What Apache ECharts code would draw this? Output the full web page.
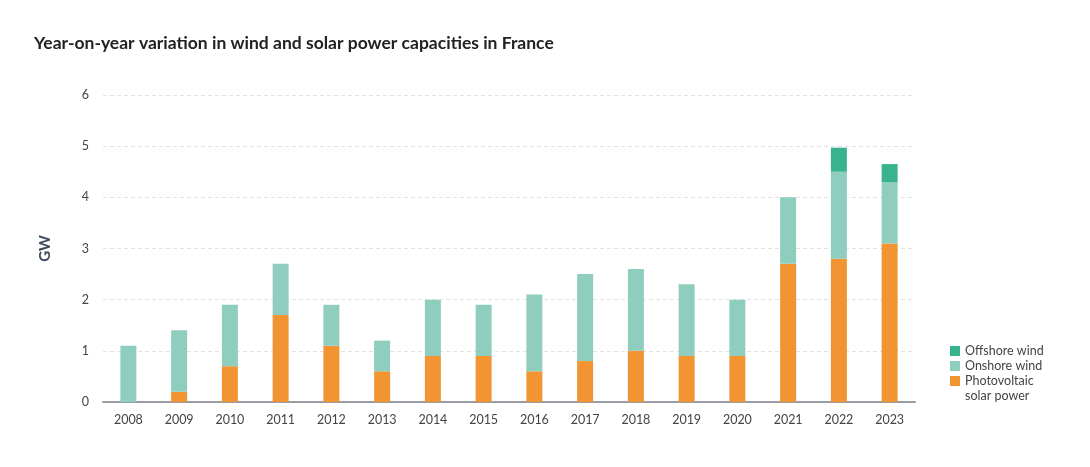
<!DOCTYPE html>
<html>
<head>
<meta charset="utf-8">
<script src="https://cdn.jsdelivr.net/npm/echarts@6/dist/echarts.min.js"></script>
<style>
html,body{margin:0;padding:0;background:#fff;}
#chart{width:1090px;height:467px;}
</style>
</head>
<body>
<div id="chart"></div>
<script>
const years = ['2008','2009','2010','2011','2012','2013','2014','2015','2016','2017','2018','2019','2020','2021','2022','2023'];
const photovoltaic = [0, 0.2, 0.7, 1.7, 1.1, 0.6, 0.9, 0.9, 0.6, 0.8, 1.0, 0.9, 0.9, 2.7, 2.8, 3.1];
const onshoreWind = [1.1, 1.2, 1.2, 1.0, 0.8, 0.6, 1.1, 1.0, 1.5, 1.7, 1.6, 1.4, 1.1, 1.3, 1.7, 1.2];
const offshoreWind = [0, 0, 0, 0, 0, 0, 0, 0, 0, 0, 0, 0, 0, 0, 0.47, 0.35];
const yTicks = [0, 1, 2, 3, 4, 5, 6];

const FONT = 'Lato, "Open Sans", sans-serif';
const legendText = { fontSize: 12.5, color: '#444', fontFamily: FONT, lineHeight: 15 };
const legendBase = {
  orient: 'vertical', left: 950, padding: 0,
  itemWidth: 10, itemHeight: 10, itemGap: 1, icon: 'rect',
  textStyle: legendText
};
const chart = echarts.init(document.getElementById('chart'));
chart.setOption({
  animation: false,
  backgroundColor: '#fff',
  textStyle: { fontFamily: FONT },
  title: {
    text: 'Year-on-year variation in wind and solar power capacities in France',
    left: 29, top: 29,
    textStyle: { fontSize: 17.5, fontWeight: 'bold', color: '#222', fontFamily: FONT }
  },
  grid: { left: 103, right: 175, top: 95, bottom: 65 },
  legend: [
    Object.assign({}, legendBase, { top: 343.5, data: ['Offshore wind'] }),
    Object.assign({}, legendBase, { top: 358.5, data: ['Onshore wind'] }),
    Object.assign({}, legendBase, {
      top: 358.5,
      data: ['Photovoltaic\nsolar power'],
      formatter: function (name) { return '\u00a0\n' + name; }
    })
  ],
  xAxis: {
    type: 'category',
    data: years,
    axisTick: { show: false },
    axisLine: { lineStyle: { color: '#9a9ca3', width: 2 } },
    axisLabel: { color: '#444', fontSize: 12.5, margin: 11 }
  },
  yAxis: {
    type: 'value',
    min: yTicks[0], max: yTicks[yTicks.length - 1], interval: 1,
    name: 'GW',
    nameLocation: 'middle',
    nameGap: 50,
    nameRotate: 90,
    nameTextStyle: { fontSize: 15, fontWeight: 'bold', color: '#3d4a5c' },
    axisLine: { show: false },
    axisTick: { show: false },
    axisLabel: { color: '#444', fontSize: 12.5, margin: 14 },
    splitLine: { lineStyle: { color: '#e3e3e3', type: [4, 3] } }
  },
  series: [
    {
      name: 'Photovoltaic\nsolar power', type: 'bar', stack: 'total', data: photovoltaic,
      barWidth: 16, itemStyle: { color: '#f39433' }
    },
    {
      name: 'Onshore wind', type: 'bar', stack: 'total', data: onshoreWind,
      barWidth: 16, itemStyle: { color: '#8fcdbf' }
    },
    {
      name: 'Offshore wind', type: 'bar', stack: 'total', data: offshoreWind,
      barWidth: 16, itemStyle: { color: '#38b38e' }
    }
  ]
});
</script>
</body>
</html>
